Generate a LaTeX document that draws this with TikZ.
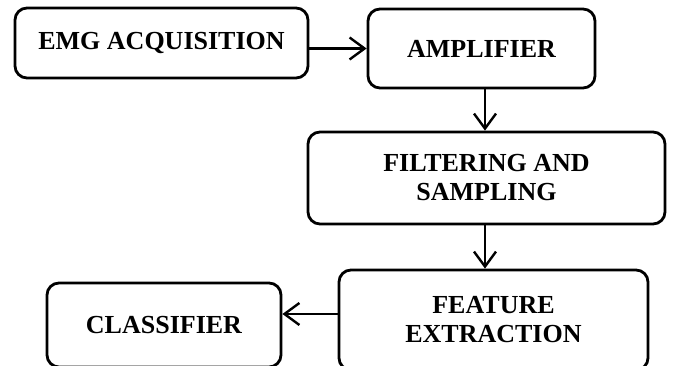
\documentclass[tikz,border=0pt]{standalone}
\usepackage{fontspec}
\setmainfont{Liberation Serif}
\usepackage{tikz}
\usetikzlibrary{arrows.meta}
\tikzset{blockbox/.style = {draw, rounded corners = 12pt, line width = 2.8pt, align = center, inner sep = 0,
    font = \bfseries\fontsize{26}{29}\selectfont}}
\tikzset{flow/.style = {line width = 2.4pt, -{Straight Barb[length = 15pt, width = 22pt, line width = 2.4pt]}}}

\begin{document}
\begin{tikzpicture}[x=1pt, y=-1pt]
      \clip (0, 0) rectangle (673, 366);
      \node [blockbox, minimum width = 293pt, minimum height = 70pt] (acq) at (161.5, 43) {EMG ACQUISITION};
      \node [blockbox, minimum width = 227pt, minimum height = 79pt] (amp) at (481.5, 48.5) {AMPLIFIER};
      \node [blockbox, minimum width = 357pt, minimum height = 92pt] (filt) at (486.5, 178) {FILTERING AND\\SAMPLING};
      \node [blockbox, minimum width = 309pt, minimum height = 100pt] (feat) at (493.5, 320) {FEATURE\\EXTRACTION};
      \node [blockbox, minimum width = 234pt, minimum height = 84pt] (class) at (164, 325) {CLASSIFIER};
      \draw [flow] (acq.east |- amp.west) -- (amp.west);
      \draw [flow] (485, 0 |- amp.south) -- (485, 0 |- filt.north);
      \draw [flow] (485, 0 |- filt.south) -- (485, 0 |- feat.north);
      \draw [flow] ([yshift = 6pt] feat.west) -- ([yshift = 6pt] feat.west -| class.east);
    \end{tikzpicture}
\end{document}
